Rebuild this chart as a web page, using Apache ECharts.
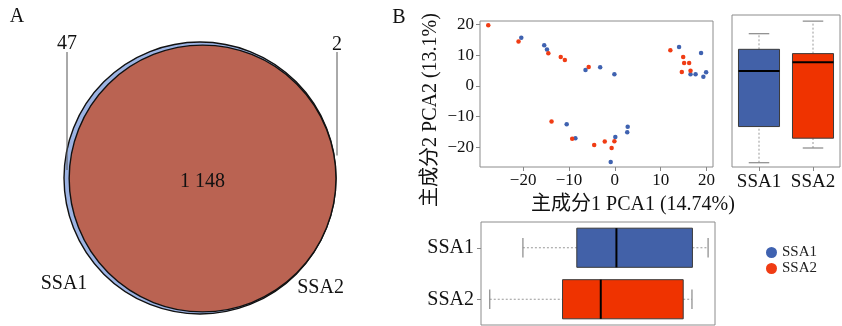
<!DOCTYPE html>
<html>
<head>
<meta charset="utf-8">
<script src="https://cdn.jsdelivr.net/npm/echarts@6/dist/echarts.min.js"></script>
<style>
html,body{margin:0;padding:0;background:#fff;}
#chart{width:842px;height:326px;}
</style>
</head>
<body>
<div id="chart"></div>
<script>
// ---------------- DATA ----------------
// Venn (panel A)
const vennSets = ['SSA1', 'SSA2'];
const vennUnique = [47, 2];
const vennShared = [1148];
const vennSharedLabel = '1 148';

// PCA scores (panel B)
const ssa1PC1 = [-20.4, -15.4, -14.8, -6.4, -3.2, -0.1, 14.0, 18.8, 16.5, 17.6, 19.3, 19.9, -10.5, -8.6, 2.8, 2.7, 0.1, -0.9];
const ssa1PC2 = [15.7, 13.3, 11.9, 5.2, 6.1, 3.8, 12.7, 10.8, 3.8, 3.8, 3.0, 4.5, -12.5, -17.0, -13.3, -15.1, -16.6, -24.8];
const ssa2PC1 = [-27.6, -21.0, -14.5, -11.8, -10.9, -5.7, 12.1, 14.9, 15.1, 16.2, 16.5, 14.6, -13.8, -9.3, -4.5, -2.2, -0.1, -0.7];
const ssa2PC2 = [19.8, 14.5, 10.7, 9.5, 8.5, 6.2, 11.7, 9.5, 7.5, 7.5, 5.0, 4.6, -11.6, -17.2, -19.2, -18.1, -18.0, -20.2];

// Box summaries [min, q1, median, q3, max]
const groups = ['SSA1', 'SSA2'];
const pc1BoxSSA1 = [-20.3, -8.6, 0.0, 16.5, 19.9];
const pc1BoxSSA2 = [-27.5, -11.7, -3.4, 14.5, 16.4];
const pc2BoxSSA1 = [-24.8, -13.0, 5.1, 12.2, 17.3];
const pc2BoxSSA2 = [-20.0, -16.8, 8.0, 10.8, 21.4];

// Tick labels
const pc1Ticks = [-20, -10, 0, 10, 20];
const pc2Ticks = [-20, -10, 0, 10, 20];

// Text
const xName = '主成分1 PCA1 (14.74%)';
const yName = '主成分2 PCA2 (13.1%)';

// ---------------- STYLE ----------------
const BLUE = '#4261a8';
const RED = '#ef3300';
const DOT_BLUE = '#3f62b0';
const DOT_RED = '#f03c14';
const VENN_BLUE = '#9cb3e3';
const VENN_RED = '#ba6352';
const SERIF = "'Liberation Serif', 'Noto Sans CJK SC', serif";
const minus = v => String(v).replace('-', '\u2212');

// ---------------- VENN GEOMETRY ----------------
const vennK = 136 / Math.sqrt(vennUnique[0] + vennShared[0]);
const r1 = vennK * Math.sqrt(vennUnique[0] + vennShared[0]);
const r2 = vennK * Math.sqrt(vennUnique[1] + vennShared[0]);
const vennCX = 200, vennCY = 178;
const vennData = [
  [vennCX, vennCY, r1, 0],
  [vennCX + (r1 - r2), vennCY + 0.5, r2, 1]
];

function vennRender(params, api) {
  const c = api.coord([api.value(0), api.value(1)]);
  const r = api.size([api.value(2), 0])[0];
  const idx = api.value(3);
  const children = [{
    type: 'circle',
    shape: { cx: c[0], cy: c[1], r: r },
    style: { fill: idx === 0 ? VENN_BLUE : VENN_RED, stroke: '#111', lineWidth: 1.4 }
  }];
  const font = '20px ' + SERIF;
  if (idx === 0) {
    const lx = c[0] - r + 3;
    children.push({ type: 'line', shape: { x1: lx, y1: 52, x2: lx, y2: c[1] - 8 }, style: { stroke: '#555', lineWidth: 1 } });
    children.push({ type: 'text', style: { text: String(vennUnique[0]), x: lx, y: 44, font: font, fill: '#111', textAlign: 'center', textVerticalAlign: 'middle', align: 'center', verticalAlign: 'middle' } });
    children.push({ type: 'text', style: { text: vennSets[0], x: c[0] - r, y: c[1] + 106, font: font, fill: '#111', textAlign: 'center', textVerticalAlign: 'middle', align: 'center', verticalAlign: 'middle' } });
  } else {
    const lx = c[0] + r + 1;
    children.push({ type: 'line', shape: { x1: lx, y1: 52, x2: lx, y2: c[1] - 23 }, style: { stroke: '#555', lineWidth: 1 } });
    children.push({ type: 'text', style: { text: String(vennUnique[1]), x: lx, y: 45, font: font, fill: '#111', textAlign: 'center', textVerticalAlign: 'middle', align: 'center', verticalAlign: 'middle' } });
    children.push({ type: 'text', style: { text: vennSets[1], x: c[0] + 118, y: c[1] + 109, font: font, fill: '#111', textAlign: 'center', textVerticalAlign: 'middle', align: 'center', verticalAlign: 'middle' } });
    children.push({ type: 'text', style: { text: vennSharedLabel, x: c[0], y: c[1] + 3, font: font, fill: '#111', textAlign: 'center', textVerticalAlign: 'middle', align: 'center', verticalAlign: 'middle' } });
  }
  return { type: 'group', children: children };
}

// ---------------- BOX RENDER ----------------
function boxRender(horizontal, colors) {
  return function (params, api) {
    const cat = api.value(0);
    const v = [api.value(1), api.value(2), api.value(3), api.value(4), api.value(5)];
    const band = horizontal ? api.size([0, 1])[1] : api.size([1, 0])[0];
    const bw = band * 0.76;
    const P = val => horizontal ? api.coord([val, cat]) : api.coord([cat, val]);
    const p = v.map(P);
    const center = horizontal ? p[0][1] : p[0][0];
    const pos = horizontal ? p.map(q => q[0]) : p.map(q => q[1]);
    const seg = (a, b, off1, off2) => horizontal
      ? { x1: a, y1: center + off1, x2: b, y2: center + off2 }
      : { x1: center + off1, y1: a, x2: center + off2, y2: b };
    const children = [];
    // whiskers
    children.push({ type: 'line', shape: horizontal ? { x1: pos[0], y1: center, x2: pos[1], y2: center } : { x1: center, y1: pos[0], x2: center, y2: pos[1] }, style: { stroke: '#999', lineWidth: 1, lineDash: [2, 2] } });
    children.push({ type: 'line', shape: horizontal ? { x1: pos[3], y1: center, x2: pos[4], y2: center } : { x1: center, y1: pos[3], x2: center, y2: pos[4] }, style: { stroke: '#999', lineWidth: 1, lineDash: [2, 2] } });
    // caps
    const cap = bw * 0.25;
    [pos[0], pos[4]].forEach(q => {
      children.push({ type: 'line', shape: horizontal ? { x1: q, y1: center - cap, x2: q, y2: center + cap } : { x1: center - cap, y1: q, x2: center + cap, y2: q }, style: { stroke: '#888', lineWidth: 1.2 } });
    });
    // box
    const a = Math.min(pos[1], pos[3]), b = Math.max(pos[1], pos[3]);
    children.push({ type: 'rect', shape: horizontal ? { x: a, y: center - bw / 2, width: b - a, height: bw } : { x: center - bw / 2, y: a, width: bw, height: b - a }, style: { fill: colors[params.dataIndex], stroke: '#3a3a3a', lineWidth: 1 } });
    // median
    children.push({ type: 'line', shape: horizontal ? { x1: pos[2], y1: center - bw / 2, x2: pos[2], y2: center + bw / 2 } : { x1: center - bw / 2, y1: pos[2], x2: center + bw / 2, y2: pos[2] }, style: { stroke: '#000', lineWidth: 2 } });
    return { type: 'group', children: children };
  };
}

const zip = (xs, ys) => xs.map((x, i) => [x, ys[i]]);

const PC1_MIN = -29.4, PC1_MAX = 21.4;
const PC2_MIN = -26.4, PC2_MAX = 21.2;

const chart = echarts.init(document.getElementById('chart'), null, { renderer: 'canvas' });
const tickStyle = { show: true, length: 4, lineStyle: { color: '#888', width: 1 } };
const labelStyle = { color: '#111', fontFamily: SERIF, fontSize: 17 };

chart.setOption({
  animation: false,
  backgroundColor: '#fff',
  grid: [
    { left: 0, top: 0, width: 400, height: 326, show: false },                                  // venn
    { left: 480, top: 21, width: 233, height: 146, show: true, borderColor: '#8c8c8c', borderWidth: 1 }, // scatter
    { left: 732, top: 15, width: 108, height: 152, show: true, borderColor: '#8c8c8c', borderWidth: 1 }, // right box
    { left: 481, top: 222, width: 234, height: 103, show: true, borderColor: '#8c8c8c', borderWidth: 1 } // bottom box
  ],
  xAxis: [
    { gridIndex: 0, type: 'value', min: 0, max: 400, show: false },
    { gridIndex: 1, type: 'value', min: PC1_MIN, max: PC1_MAX, splitLine: { show: false },
      axisLine: { show: false, onZero: false },
      axisTick: Object.assign({ customValues: pc1Ticks }, tickStyle),
      axisLabel: Object.assign({ customValues: pc1Ticks, margin: 5, formatter: minus }, labelStyle) },
    { gridIndex: 2, type: 'category', data: groups, splitLine: { show: false },
      axisLine: { show: false, onZero: false },
      axisTick: Object.assign({ alignWithLabel: true }, tickStyle),
      axisLabel: Object.assign({ margin: 6, interval: 0 }, labelStyle, { fontSize: 19 }) },
    { gridIndex: 3, type: 'value', min: PC1_MIN, max: PC1_MAX, splitLine: { show: false },
      axisLine: { show: false, onZero: false }, axisTick: { show: false }, axisLabel: { show: false } }
  ],
  yAxis: [
    { gridIndex: 0, type: 'value', min: 0, max: 326, inverse: true, show: false },
    { gridIndex: 1, type: 'value', min: PC2_MIN, max: PC2_MAX, splitLine: { show: false },
      axisLine: { show: false, onZero: false },
      axisTick: Object.assign({ customValues: pc2Ticks }, tickStyle),
      axisLabel: Object.assign({ customValues: pc2Ticks, margin: 6, formatter: minus }, labelStyle) },
    { gridIndex: 2, type: 'value', min: -26.2, max: 23.4, splitLine: { show: false },
      axisLine: { show: false, onZero: false }, axisTick: { show: false }, axisLabel: { show: false } },
    { gridIndex: 3, type: 'category', data: groups, inverse: true, splitLine: { show: false },
      axisLine: { show: false, onZero: false },
      axisTick: Object.assign({ alignWithLabel: true }, tickStyle),
      axisLabel: Object.assign({ margin: 7, interval: 0 }, labelStyle, { fontSize: 20 }) }
  ],
  legend: {
    data: ['SSA1', 'SSA2'], orient: 'vertical', left: 761, top: 240,
    icon: 'circle', itemWidth: 11, itemHeight: 11, itemGap: 1, selectedMode: false,
    textStyle: { fontFamily: SERIF, fontSize: 15, color: '#222', lineHeight: 13 }
  },
  graphic: [
    { type: 'text', x: 17, y: 17, style: { text: 'A', font: '20px ' + SERIF, fill: '#111', textAlign: 'center', textVerticalAlign: 'middle', align: 'center', verticalAlign: 'middle' } },
    { type: 'text', x: 399, y: 18, style: { text: 'B', font: '20px ' + SERIF, fill: '#111', textAlign: 'center', textVerticalAlign: 'middle', align: 'center', verticalAlign: 'middle' } },
    { type: 'text', x: 633, y: 205, style: { text: xName, font: '20px ' + SERIF, fill: '#111', textAlign: 'center', textVerticalAlign: 'middle', align: 'center', verticalAlign: 'middle' } },
    { type: 'text', x: 431, y: 110, rotation: Math.PI / 2, style: { text: yName, font: '20px ' + SERIF, fill: '#111', textAlign: 'center', textVerticalAlign: 'middle', align: 'center', verticalAlign: 'middle' } }
  ],
  series: [
    { type: 'custom', name: 'venn', xAxisIndex: 0, yAxisIndex: 0, renderItem: vennRender, data: vennData, silent: true,
      encode: { x: 0, y: 1 } },
    { type: 'scatter', name: 'SSA1', xAxisIndex: 1, yAxisIndex: 1, data: zip(ssa1PC1, ssa1PC2), symbolSize: 4.5,
      itemStyle: { color: DOT_BLUE, opacity: 1 }, emphasis: { disabled: true } },
    { type: 'scatter', name: 'SSA2', xAxisIndex: 1, yAxisIndex: 1, data: zip(ssa2PC1, ssa2PC2), symbolSize: 4.5,
      itemStyle: { color: DOT_RED, opacity: 1 }, emphasis: { disabled: true } },
    { type: 'custom', name: 'pc2box', xAxisIndex: 2, yAxisIndex: 2, renderItem: boxRender(false, [BLUE, RED]),
      data: [[0].concat(pc2BoxSSA1), [1].concat(pc2BoxSSA2)], encode: { x: 0, y: [1, 2, 3, 4, 5] }, silent: true },
    { type: 'custom', name: 'pc1box', xAxisIndex: 3, yAxisIndex: 3, renderItem: boxRender(true, [BLUE, RED]),
      data: [[0].concat(pc1BoxSSA1), [1].concat(pc1BoxSSA2)], encode: { y: 0, x: [1, 2, 3, 4, 5] }, silent: true }
  ]
});
</script>
</body>
</html>
